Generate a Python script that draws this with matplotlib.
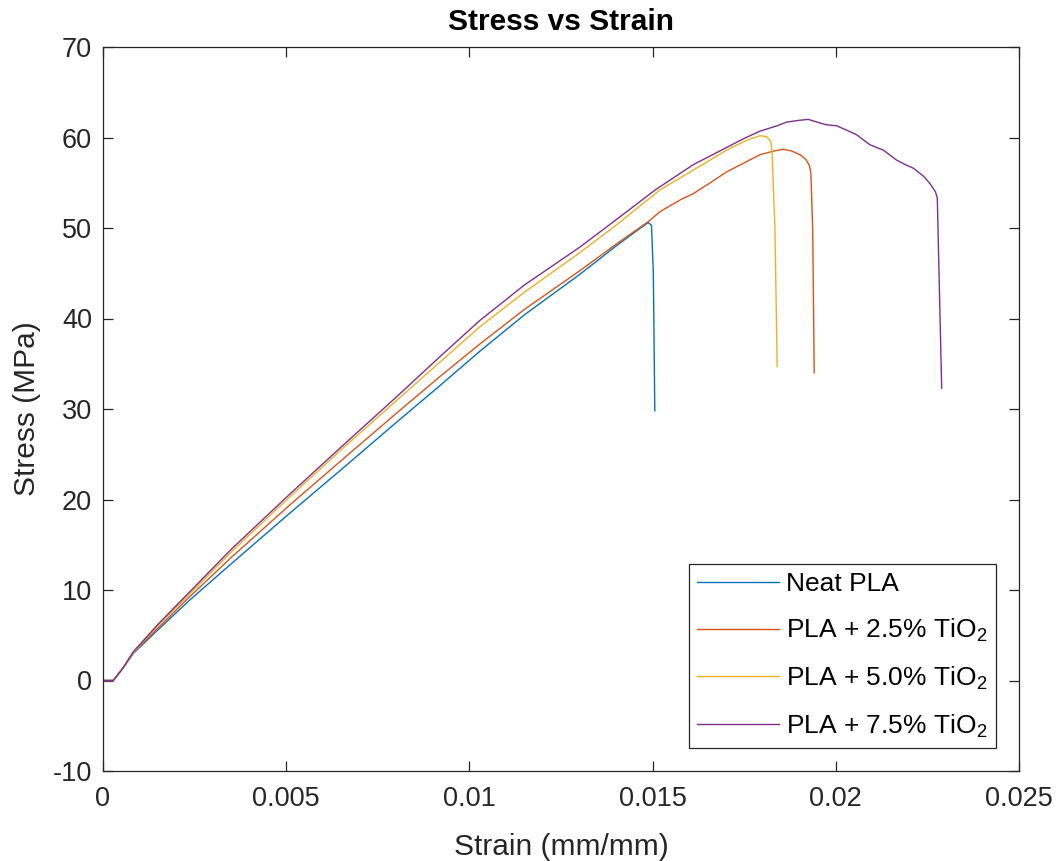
import matplotlib
matplotlib.use("Agg")
import matplotlib.pyplot as plt

plt.rcParams['font.family'] = ['Liberation Sans', 'DejaVu Sans']
plt.rcParams['mathtext.fontset'] = 'custom'
plt.rcParams['mathtext.rm'] = 'Liberation Sans'
plt.rcParams['mathtext.it'] = 'Liberation Sans'
plt.rcParams['axes.unicode_minus'] = False

labels = ['Neat PLA', 'PLA + 2.5% TiO$_2$', 'PLA + 5.0% TiO$_2$', 'PLA + 7.5% TiO$_2$']
colors = ['#0072BD', '#D95319', '#EDB120', '#7E2F8E']

neat_x = [0, 0.00028, 0.00055, 0.00083, 0.0015, 0.00237, 0.0035, 0.0051, 0.0065, 0.008, 0.0092,
          0.01029, 0.0115, 0.01302, 0.0140, 0.0145, 0.01488, 0.01497, 0.01502, 0.01506]
neat_y = [0, 0, 1.4, 3.0, 5.6, 8.9, 12.9, 18.5, 23.3, 28.5, 32.6,
          36.4, 40.4, 44.9, 48.0, 49.5, 50.6, 50.3, 45.0, 29.8]

t25_x = [0, 0.00028, 0.00055, 0.00083, 0.0015, 0.0023, 0.0035, 0.0051, 0.0065, 0.008, 0.0092,
         0.01029, 0.0115, 0.01302, 0.0140, 0.01488, 0.0152, 0.01575, 0.01611, 0.0165,
         0.01702, 0.0175, 0.01793, 0.0183, 0.01857, 0.0188, 0.01902, 0.01918, 0.01928,
         0.01932, 0.01937, 0.01941]
t25_y = [0, 0, 1.4, 3.1, 5.8, 9.0, 13.6, 19.4, 24.3, 29.5, 33.6,
         37.2, 41.0, 45.3, 48.2, 50.7, 51.8, 53.1, 53.8, 54.8,
         56.2, 57.2, 58.1, 58.5, 58.7, 58.5, 58.1, 57.6, 56.9,
         56.0, 49.8, 34.0]

t50_x = [0, 0.00028, 0.00055, 0.00083, 0.0015, 0.0022, 0.0035, 0.0051, 0.0065, 0.008, 0.0092,
         0.01029, 0.0115, 0.01302, 0.0140, 0.0152, 0.01611, 0.01702, 0.01757, 0.01793,
         0.01811, 0.01822, 0.01826, 0.01834, 0.0184]
t50_y = [0, 0, 1.4, 3.1, 6.1, 8.9, 14.2, 20.3, 25.5, 30.9, 35.2,
         39.1, 42.9, 47.3, 50.3, 54.2, 56.4, 58.6, 59.7, 60.2,
         60.1, 59.6, 58.5, 49.8, 34.7]

t75_x = [0, 0.00028, 0.00055, 0.00083, 0.0015, 0.00215, 0.0035, 0.0051, 0.0065, 0.008, 0.0092,
         0.01029, 0.0115, 0.01302, 0.0140, 0.01507, 0.01611, 0.01702, 0.0175, 0.01793,
         0.0184, 0.01866, 0.019, 0.01925, 0.01957, 0.01975, 0.02002, 0.0203,
         0.02057, 0.02093, 0.0213, 0.02166, 0.0219, 0.02212, 0.0224, 0.02257, 0.02272,
         0.02277, 0.02289]
t75_y = [0, 0, 1.4, 3.2, 6.2, 8.9, 14.5, 20.6, 25.8, 31.3, 35.8,
         39.8, 43.7, 47.9, 50.9, 54.2, 57.0, 58.9, 59.9, 60.7,
         61.3, 61.7, 61.9, 62.0, 61.6, 61.4, 61.3, 60.8,
         60.3, 59.2, 58.6, 57.5, 57.0, 56.6, 55.7, 54.9, 54.0,
         53.3, 32.3]

xticks = [0, 0.005, 0.01, 0.015, 0.02, 0.025]
xticklabels = ['0', '0.005', '0.01', '0.015', '0.02', '0.025']
yticks = [-10, 0, 10, 20, 30, 40, 50, 60, 70]

fig = plt.figure(figsize=(10.58, 8.61), dpi=100)
ax = fig.add_axes([103/1058, 1-771/861, 916/1058, 724/861])

series = [(neat_x, neat_y), (t25_x, t25_y), (t50_x, t50_y), (t75_x, t75_y)]
for (xs, ys), c, lab in zip(series, colors, labels):
    ax.plot(xs, ys, color=c, lw=1.0, label=lab)

ax.set_xlim(0, 0.025)
ax.set_ylim(-10, 70)
ax.set_xticks(xticks)
ax.set_xticklabels(xticklabels)
ax.set_yticks(yticks)

axcol = '#262626'
for s in ax.spines.values():
    s.set_color(axcol)
    s.set_linewidth(0.9)
ax.tick_params(direction='in', length=7, width=0.9, colors=axcol, labelsize=19.5,
               top=True, right=True, labelcolor='#262626')
ax.tick_params(axis='x', pad=11)
ax.tick_params(axis='y', pad=8)

ax.set_xlabel('Strain (mm/mm)', fontsize=21.5, color='#262626', labelpad=15)
ax.set_ylabel('Stress (MPa)', fontsize=21.5, color='#262626', labelpad=8)
ax.set_title('Stress vs Strain', fontsize=21.5, fontweight='bold', color='black', pad=12)

leg = ax.legend(loc='lower right', bbox_to_anchor=(0.9749, 0.0318), borderaxespad=0,
                fontsize=19, frameon=True, fancybox=False, framealpha=1,
                handlelength=3.1, handletextpad=0.28, labelspacing=0.78,
                borderpad=0.32)
leg.get_frame().set_edgecolor(axcol)
leg.get_frame().set_linewidth(0.9)

fig.savefig('out.png', dpi=100)
